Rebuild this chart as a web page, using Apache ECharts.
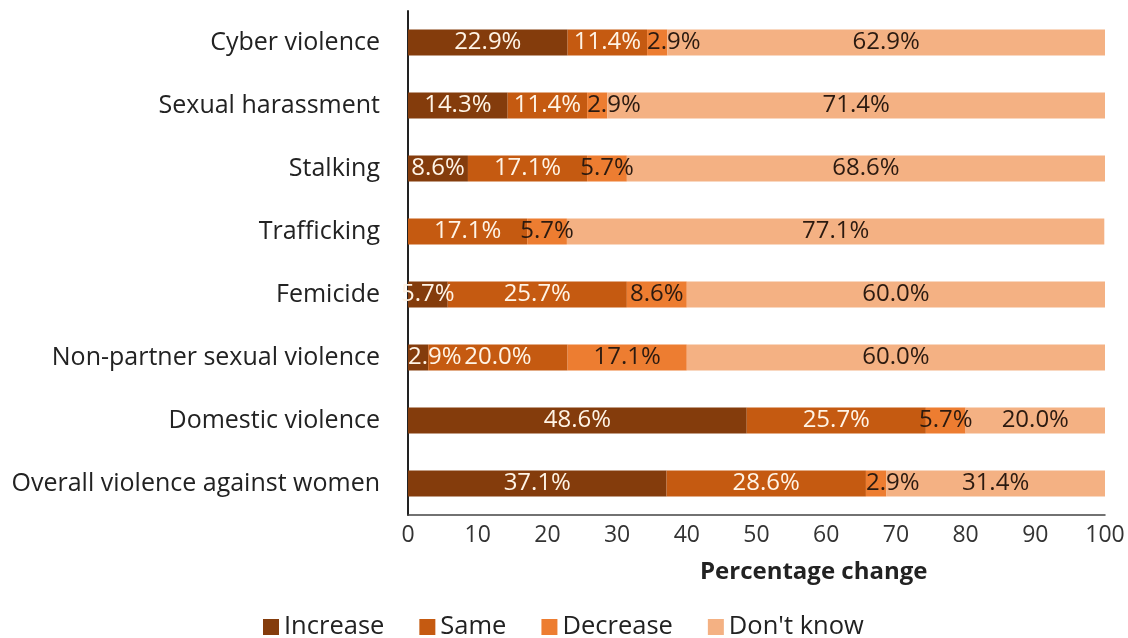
<!DOCTYPE html>
<html>
<head>
<meta charset="utf-8">
<script src="https://cdn.jsdelivr.net/npm/echarts@6/dist/echarts.min.js"></script>
<style>
html,body{margin:0;padding:0;background:#fff;}
#chart{width:1128px;height:638px;}
</style>
</head>
<body>
<div id="chart"></div>
<script>
const categories = ["Cyber violence","Sexual harassment","Stalking","Trafficking","Femicide","Non-partner sexual violence","Domestic violence","Overall violence against women"];
const increase = [22.9, 14.3, 8.6, 0, 5.7, 2.9, 48.6, 37.1];
const same = [11.4, 11.4, 17.1, 17.1, 25.7, 20.0, 25.7, 28.6];
const decrease = [2.9, 2.9, 5.7, 5.7, 8.6, 17.1, 5.7, 2.9];
const dontKnow = [62.9, 71.4, 68.6, 77.1, 60.0, 60.0, 20.0, 31.4];
const seriesNames = ["Increase","Same","Decrease","Don't know"];
const xTicks = [0,10,20,30,40,50,60,70,80,90,100];

const colors = ["#843c0c","#c55a11","#ed7d31","#f4b183"];
const labelColors = ["#fff4e6","#fff4e6","#2b1a10","#2b1a10"];
const FONT = "Open Sans";

const chart = echarts.init(document.getElementById('chart'));
const dataSets = [increase, same, decrease, dontKnow];
const series = dataSets.map((d, i) => ({
  name: seriesNames[i],
  type: 'bar',
  stack: 'total',
  barWidth: 26,
  data: d.map(v => v < 4 ? {value: v, label: {position: 'insideLeft', distance: 0}} : v),
  itemStyle: {color: colors[i]},
  label: {
    show: true,
    position: 'inside',
    color: labelColors[i],
    fontFamily: FONT,
    fontSize: 24,
    formatter: p => p.value > 0 ? p.value.toFixed(1) + '%' : ''
  }
}));

chart.setOption({
  animation: false,
  textStyle: {fontFamily: FONT},
  grid: {left: 408, right: 23, top: 11, bottom: 123, containLabel: false},
  xAxis: {
    type: 'value',
    min: 0, max: 100, interval: 10,
    axisLine: {show: true, lineStyle: {color: '#444', width: 1.5}},
    axisTick: {show: false},
    splitLine: {show: false},
    axisLabel: {color: '#333', fontSize: 23, fontFamily: FONT, margin: 9,
      formatter: v => xTicks.includes(v) ? String(v) : ''}
  },
  yAxis: {
    type: 'category',
    data: categories,
    inverse: true,
    axisLine: {show: true, lineStyle: {color: '#222', width: 2}},
    axisTick: {show: false},
    axisLabel: {color: '#222', fontSize: 25, fontFamily: FONT, margin: 28}
  },
  legend: {
    data: seriesNames,
    bottom: -7,
    left: 258,
    itemWidth: 16,
    itemHeight: 16,
    itemGap: 35,
    icon: 'rect',
    textStyle: {fontSize: 25.5, color: '#222', fontFamily: FONT}
  },
  graphic: [{
    type: 'text',
    left: 700,
    top: 560,
    style: {text: 'Percentage change', font: 'bold 24px "Open Sans"', fill: '#222'}
  }],
  series: series
});
</script>
</body>
</html>
